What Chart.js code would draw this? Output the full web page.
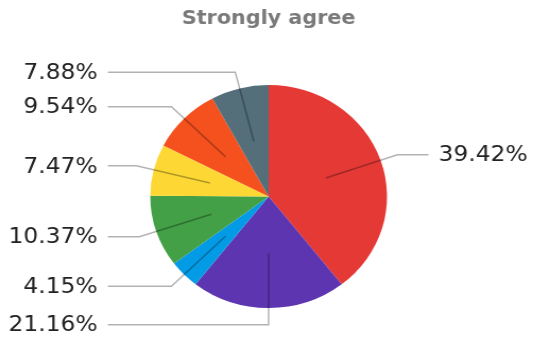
<!DOCTYPE html>
<html>
<head>
<meta charset="utf-8">
<script src="https://cdn.jsdelivr.net/npm/chart.js@4/dist/chart.umd.min.js"></script>
<style>
  html, body { margin: 0; padding: 0; background: #fff; }
  /* the chart is drawn slightly narrower, then widened to fill the page */
  #wrap { width: 502px; height: 343px; transform: scaleX(1.0618); transform-origin: 0 0; }
</style>
</head>
<body>
<div id="wrap"><canvas id="agreeChart"></canvas></div>
<script>
const chartTitle = 'Strongly agree';
const shares = [39.42, 21.16, 4.15, 10.37, 7.47, 9.54, 7.88];
const sliceColors = ['#E53935', '#5E35B1', '#039BE5', '#43A047', '#FDD835', '#F4511E', '#546E7A'];
const shareLabels = shares.map(v => v.toFixed(2) + '%');

// leader lines from inside each slice out to its percentage label
const leaderLabels = {
  id: 'leaderLabels',
  afterDatasetsDraw(chart) {
    const ctx = chart.ctx;
    const arcs = chart.getDatasetMeta(0).data;
    ctx.save();
    arcs.forEach((arc, i) => {
      const { x, y, startAngle, endAngle, outerRadius } = arc.getProps(['x', 'y', 'startAngle', 'endAngle', 'outerRadius'], true);
      const mid = (startAngle + endAngle) / 2;
      const cos = Math.cos(mid), sin = Math.sin(mid);
      const right = cos > 1e-6;
      const inner = { x: x + cos * outerRadius * 0.51, y: y + sin * outerRadius * 0.51 };
      const elbow = { x: x + cos * outerRadius * 1.15, y: y + sin * outerRadius * 1.15 };
      const endX = right ? x + outerRadius + 39 : x - outerRadius - 40;

      ctx.strokeStyle = 'rgba(0,0,0,0.3)';
      ctx.lineWidth = 1.5;
      ctx.beginPath();
      ctx.moveTo(inner.x, inner.y);
      ctx.lineTo(elbow.x, elbow.y);
      ctx.lineTo(endX, elbow.y);
      ctx.stroke();

      ctx.fillStyle = '#222';
      ctx.font = '22px "DejaVu Sans"';
      ctx.textBaseline = 'middle';
      ctx.textAlign = right ? 'left' : 'right';
      ctx.fillText(shareLabels[i], right ? endX + 9.5 : endX - 9.5, elbow.y + 1);
    });
    ctx.restore();
  }
};

new Chart(document.getElementById('agreeChart'), {
  type: 'pie',
  data: {
    labels: shareLabels,
    datasets: [{
      data: shares,
      backgroundColor: sliceColors,
      borderWidth: 0
    }]
  },
  options: {
    responsive: true,
    maintainAspectRatio: false,
    animation: false,
    layout: { padding: { left: 141, right: 137, top: 0, bottom: 35 } },
    plugins: {
      legend: { display: false },
      tooltip: { enabled: false },
      title: {
        display: true,
        text: chartTitle,
        color: '#7a7a7a',
        font: { family: 'DejaVu Sans', size: 19.5, weight: 'bold' },
        padding: { top: 7.6, bottom: 54 }
      }
    }
  },
  plugins: [leaderLabels]
});
</script>
</body>
</html>
